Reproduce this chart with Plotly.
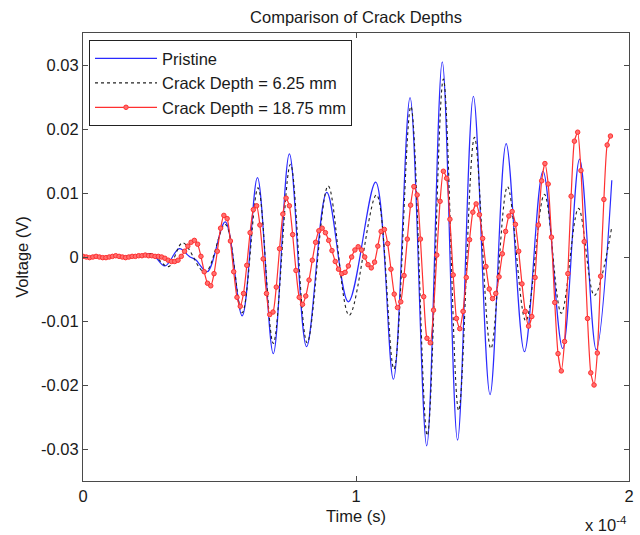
import plotly.graph_objects as go

# ---- data (time in units of 1e-4 s, voltage in V) ----
TIME_SCALE = 1e-4

PRISTINE_T = [0.000, 0.060, 0.120, 0.180, 0.215, 0.252, 0.300, 0.353, 0.392, 0.412,
              0.455, 0.521, 0.583, 0.639, 0.697, 0.756, 0.819, 0.893, 0.972, 1.072,
              1.137, 1.198, 1.259, 1.316, 1.372, 1.430, 1.491, 1.550, 1.617, 1.685,
              1.757, 1.819, 1.880, 1.937]
PRISTINE_V = [0.0001, 0.0000, 0.0001, 0.0001, 0.0002, 0.0005, -0.0014, 0.0013, 0.0000, -0.0004,
              -0.0023, 0.0055, -0.0092, 0.0124, -0.0151, 0.0161, -0.0140, 0.0101, -0.0070, 0.0117,
              -0.0191, 0.0249, -0.0295, 0.0305, -0.0286, 0.0251, -0.0215, 0.0177, -0.0148, 0.0134,
              -0.0143, 0.0153, -0.0145, 0.0120]

CRACK625_T = [0.000, 0.060, 0.120, 0.180, 0.215, 0.252, 0.313, 0.365, 0.447, 0.521,
              0.583, 0.641, 0.697, 0.760, 0.821, 0.898, 0.975, 1.075, 1.139, 1.201,
              1.261, 1.320, 1.376, 1.434, 1.494, 1.555, 1.622, 1.690, 1.752, 1.815,
              1.873, 1.937]
CRACK625_V = [0.0001, 0.0000, 0.0001, 0.0001, 0.0002, 0.0005, -0.0015, 0.0022, -0.0024, 0.0051,
              -0.0087, 0.0108, -0.0135, 0.0145, -0.0134, 0.0111, -0.0091, 0.0097, -0.0175, 0.0235,
              -0.0279, 0.0278, -0.0240, 0.0187, -0.0143, 0.0110, -0.0100, 0.0098, -0.0088, 0.0076,
              -0.0060, 0.0047]

CRACK1875_T = [0.000, 0.012, 0.024, 0.036, 0.048, 0.060, 0.072, 0.084, 0.096, 0.108,
               0.120, 0.132, 0.144, 0.156, 0.168, 0.180, 0.192, 0.204, 0.216, 0.228,
               0.240, 0.252, 0.264, 0.276, 0.288, 0.300, 0.312, 0.324, 0.336, 0.348,
               0.360, 0.372, 0.384, 0.396, 0.408, 0.420, 0.432, 0.444, 0.456, 0.468,
               0.480, 0.492, 0.504, 0.516, 0.528, 0.540, 0.552, 0.564, 0.576, 0.588,
               0.600, 0.612, 0.624, 0.636, 0.648, 0.660, 0.672, 0.684, 0.696, 0.708,
               0.720, 0.732, 0.744, 0.756, 0.768, 0.780, 0.792, 0.804, 0.816, 0.828,
               0.840, 0.852, 0.864, 0.876, 0.888, 0.900, 0.912, 0.924, 0.936, 0.948,
               0.960, 0.972, 0.984, 0.996, 1.008, 1.020, 1.032, 1.044, 1.056, 1.068,
               1.080, 1.092, 1.104, 1.116, 1.128, 1.140, 1.152, 1.164, 1.176, 1.188,
               1.200, 1.212, 1.224, 1.236, 1.248, 1.260, 1.272, 1.284, 1.296, 1.308,
               1.320, 1.332, 1.344, 1.356, 1.368, 1.380, 1.392, 1.404, 1.416, 1.428,
               1.440, 1.452, 1.464, 1.476, 1.488, 1.500, 1.512, 1.524, 1.536, 1.548,
               1.560, 1.572, 1.584, 1.596, 1.608, 1.620, 1.632, 1.644, 1.656, 1.668,
               1.680, 1.692, 1.704, 1.716, 1.728, 1.740, 1.752, 1.764, 1.776, 1.788,
               1.800, 1.812, 1.824, 1.836, 1.848, 1.860, 1.872, 1.884, 1.896, 1.908,
               1.920, 1.932]
CRACK1875_V = [0.0001, 0.0000, -0.0001, 0.0000, 0.0001, 0.0000, -0.0001, -0.0001, 0.0000, 0.0001,
               0.0002, 0.0001, 0.0000, -0.0001, 0.0000, 0.0001, 0.0001, 0.0002, 0.0002, 0.0003,
               0.0002, 0.0002, 0.0001, 0.0001, 0.0000,
               -0.0002, -0.0005, -0.0007, -0.0007, -0.0005, 0.0001, 0.0009, 0.0017, 0.0023, 0.0026,
               0.0020, 0.0001, -0.0023, -0.0041, -0.0045, -0.0026, 0.0009, 0.0045, 0.0065, 0.0060,
               0.0025, -0.0023, -0.0063, -0.0077, -0.0057, -0.0013, 0.0038, 0.0074, 0.0080, 0.0050,
               -0.0003, -0.0057, -0.0090, -0.0086, -0.0047, 0.0013, 0.0067, 0.0092, 0.0080, 0.0035,
               -0.0021, -0.0063, -0.0074, -0.0061, -0.0036, -0.0005, 0.0023, 0.0041, 0.0045, 0.0038,
               0.0026, 0.0010, -0.0007, -0.0019, -0.0026, -0.0024, -0.0014, 0.0000, 0.0011, 0.0016,
               0.0011, 0.0000, -0.0012, -0.0017, -0.0008, 0.0017, 0.0040, 0.0043, 0.0021, -0.0019,
               -0.0058, -0.0079, -0.0070, -0.0029, 0.0028, 0.0081, 0.0110, 0.0097, 0.0028, -0.0062,
               -0.0127, -0.0134, -0.0083, 0.0003, 0.0087, 0.0134, 0.0123, 0.0059, -0.0028, -0.0096,
               -0.0112, -0.0085, -0.0032, 0.0027, 0.0070, 0.0083, 0.0066, 0.0029, -0.0015, -0.0050,
               -0.0065, -0.0057, -0.0031, 0.0005, 0.0040, 0.0064, 0.0071, 0.0051, 0.0009, -0.0042,
               -0.0085, -0.0108, -0.0093, -0.0032, 0.0050, 0.0119, 0.0146, 0.0114, 0.0031, -0.0071,
               -0.0151, -0.0178, -0.0132, -0.0026, 0.0095, 0.0181, 0.0195, 0.0135, 0.0024, -0.0096,
               -0.0181, -0.0200, -0.0150, -0.0030, 0.0090, 0.0175, 0.0189]

SERIES_NAMES = ["Pristine", "Crack Depth = 6.25 mm", "Crack Depth = 18.75 mm"]
X_TICKS = [0, 1, 2]
X_TICK_TEXT = ["0", "1", "2"]
Y_TICKS = [-0.03, -0.02, -0.01, 0, 0.01, 0.02, 0.03]
Y_TICK_TEXT = ["-0.03", "-0.02", "-0.01", "0", "0.01", "0.02", "0.03"]

FONT = "Liberation Sans, Arial, Helvetica, sans-serif"
FS = 16.5
TXT = "#1a1a1a"
AX = "#4a4a4a"


def sec(ts):
    return [t * TIME_SCALE for t in ts]


fig = go.Figure()
fig.add_trace(go.Scatter(
    x=sec(PRISTINE_T), y=PRISTINE_V, name=SERIES_NAMES[0], mode="lines",
    line=dict(color="#2a2aff", width=1.2, shape="spline", smoothing=1.0)))
fig.add_trace(go.Scatter(
    x=sec(CRACK625_T), y=CRACK625_V, name=SERIES_NAMES[1], mode="lines",
    line=dict(color="#222222", width=1.1, dash="dot", shape="spline", smoothing=1.0)))
fig.add_trace(go.Scatter(
    x=sec(CRACK1875_T), y=CRACK1875_V, name=SERIES_NAMES[2], mode="lines+markers",
    line=dict(color="#ff3030", width=1.2, shape="spline", smoothing=0.6),
    marker=dict(symbol="circle", size=4.5, color="#ff7070",
                line=dict(color="#ff3030", width=1))))

axis_common = dict(showline=True, linecolor=AX, linewidth=1, mirror="ticks",
                   ticks="inside", ticklen=5, tickcolor=AX, tickwidth=1,
                   showgrid=False, zeroline=False,
                   tickfont=dict(family=FONT, size=FS, color=TXT))

fig.update_layout(
    width=640, height=535,
    margin=dict(l=83, r=11, t=33, b=54, autoexpand=False),
    paper_bgcolor="white", plot_bgcolor="white",
    font=dict(family=FONT, size=FS, color=TXT),
    title=dict(text="Comparison of Crack Depths", x=0.5, xref="paper", xanchor="center",
               y=1 - 17 / 535, yref="container", yanchor="middle",
               font=dict(family=FONT, size=FS, color=TXT)),
    xaxis=dict(range=[0, 2 * TIME_SCALE],
               tickvals=[v * TIME_SCALE for v in X_TICKS], ticktext=X_TICK_TEXT,
               title=dict(text="Time (s)", standoff=6,
                          font=dict(family=FONT, size=FS, color=TXT)),
               **axis_common),
    yaxis=dict(range=[-0.035, 0.035], tickvals=Y_TICKS, ticktext=Y_TICK_TEXT,
               title=dict(text="Voltage (V)", standoff=8,
                          font=dict(family=FONT, size=FS, color=TXT)),
               **axis_common),
    legend=dict(x=0.011, y=0.984, xanchor="left", yanchor="top",
                bgcolor="white", bordercolor="#222222", borderwidth=1,
                font=dict(family=FONT, size=FS, color=TXT), itemwidth=62,
                tracegroupgap=0),
    showlegend=True,
)

fig.add_annotation(text="x 10<sup>-4</sup>", xref="paper", yref="paper",
                   x=1.0, y=-0.096, xanchor="right", yanchor="middle",
                   showarrow=False, font=dict(family=FONT, size=FS, color=TXT))

fig.write_html("out.html")
